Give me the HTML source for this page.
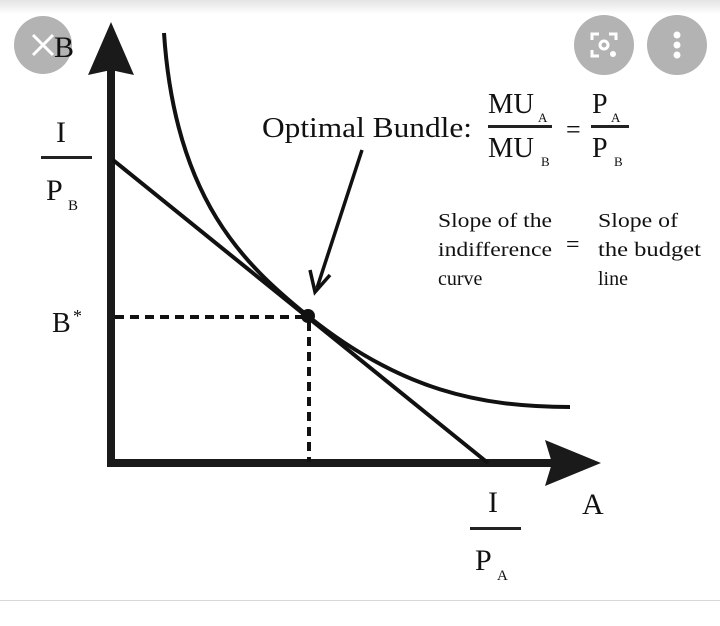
<!DOCTYPE html>
<html><head><meta charset="utf-8"><style>
html,body{margin:0;padding:0;background:#fff;width:720px;height:626px;overflow:hidden}
svg{display:block}
text{font-family:"Liberation Serif",serif;fill:#111}
</style></head><body>
<svg width="720" height="626" viewBox="0 0 720 626">
<defs><linearGradient id="g" x1="0" y1="0" x2="0" y2="1"><stop offset="0" stop-color="#e4e4e4"/><stop offset="1" stop-color="#fff"/></linearGradient></defs>
<rect x="0" y="0" width="720" height="14" fill="url(#g)"/>
<rect x="0" y="600" width="720" height="1" fill="#d8d8d8"/>
<!-- axes -->
<line x1="111" y1="70" x2="111" y2="467" stroke="#1a1a1a" stroke-width="8"/>
<polygon points="111,22 134,75 111,70 88,75" fill="#1a1a1a"/>
<line x1="107" y1="463" x2="552" y2="463" stroke="#1a1a1a" stroke-width="8"/>
<polygon points="601,463 545,440 552,463 545,486" fill="#1a1a1a"/>
<!-- budget line -->
<line x1="113" y1="160" x2="488" y2="463" stroke="#111" stroke-width="4"/>
<!-- indifference curve -->
<path d="M164,33 C175,200 245,265 308,316 C400,390 480,407 570,407" fill="none" stroke="#111" stroke-width="4"/>
<!-- dashed -->
<line x1="115" y1="317" x2="304" y2="317" stroke="#111" stroke-width="4" stroke-dasharray="9,6"/>
<line x1="309" y1="322" x2="309" y2="462" stroke="#111" stroke-width="4" stroke-dasharray="9,6"/>
<circle cx="308" cy="316" r="7" fill="#111"/>
<!-- pointer arrow -->
<line x1="362" y1="150" x2="317" y2="288" stroke="#111" stroke-width="3.5"/>
<polyline points="310,270 315,292 330,275" fill="none" stroke="#111" stroke-width="3.5"/>
<!-- labels -->
<text x="56" y="142" font-size="30">I</text>
<rect x="41" y="156" width="51" height="3" fill="#222"/>
<text x="46" y="200" font-size="30">P</text><text x="68" y="210" font-size="15">B</text>
<text x="52" y="332" font-size="28">B</text><text x="73" y="322" font-size="18">*</text>
<text x="262" y="137" font-size="29" textLength="210" lengthAdjust="spacingAndGlyphs">Optimal Bundle:</text>
<text x="488" y="113" font-size="28" textLength="46" lengthAdjust="spacingAndGlyphs">MU</text><text x="538" y="122" font-size="13">A</text>
<rect x="488" y="125" width="64" height="3" fill="#222"/>
<text x="488" y="157" font-size="28" textLength="46" lengthAdjust="spacingAndGlyphs">MU</text><text x="541" y="166" font-size="13">B</text>
<text x="566" y="138" font-size="26">=</text>
<text x="592" y="113" font-size="28">P</text><text x="611" y="122" font-size="13">A</text>
<rect x="591" y="125" width="38" height="3" fill="#222"/>
<text x="592" y="157" font-size="28">P</text><text x="614" y="166" font-size="13">B</text>
<g font-size="20">
<text x="438" y="227" textLength="114" lengthAdjust="spacingAndGlyphs">Slope of the</text>
<text x="438" y="256" textLength="114" lengthAdjust="spacingAndGlyphs">indifference</text>
<text x="438" y="285">curve</text>
<text x="598" y="227" textLength="80" lengthAdjust="spacingAndGlyphs">Slope of</text>
<text x="598" y="256" textLength="103" lengthAdjust="spacingAndGlyphs">the budget</text>
<text x="598" y="285">line</text>
</g>
<text x="566" y="252" font-size="24">=</text>
<text x="488" y="512" font-size="30">I</text>
<rect x="470" y="527" width="51" height="3" fill="#222"/>
<text x="475" y="570" font-size="30">P</text><text x="497" y="580" font-size="15">A</text>
<text x="582" y="514" font-size="30">A</text>
<!-- overlay buttons -->
<circle cx="43" cy="45" r="29" fill="#b3b3b3"/>
<path d="M33,35 L53,55 M53,35 L33,55" stroke="#fff" stroke-width="3"/>
<text x="54" y="57" font-size="30">B</text>
<circle cx="604" cy="45" r="30" fill="#b3b3b3"/>
<path d="M592,40 v-6 h7 M609,34 h7 v6 M592,50 v6 h7" fill="none" stroke="#fff" stroke-width="3"/>
<circle cx="604" cy="45" r="4" fill="none" stroke="#fff" stroke-width="3"/>
<circle cx="613" cy="54" r="3" fill="#fff"/>
<circle cx="677" cy="45" r="30" fill="#b3b3b3"/>
<circle cx="677" cy="35" r="3.5" fill="#fff"/><circle cx="677" cy="45" r="3.5" fill="#fff"/><circle cx="677" cy="55" r="3.5" fill="#fff"/>
</svg>
</body></html>
